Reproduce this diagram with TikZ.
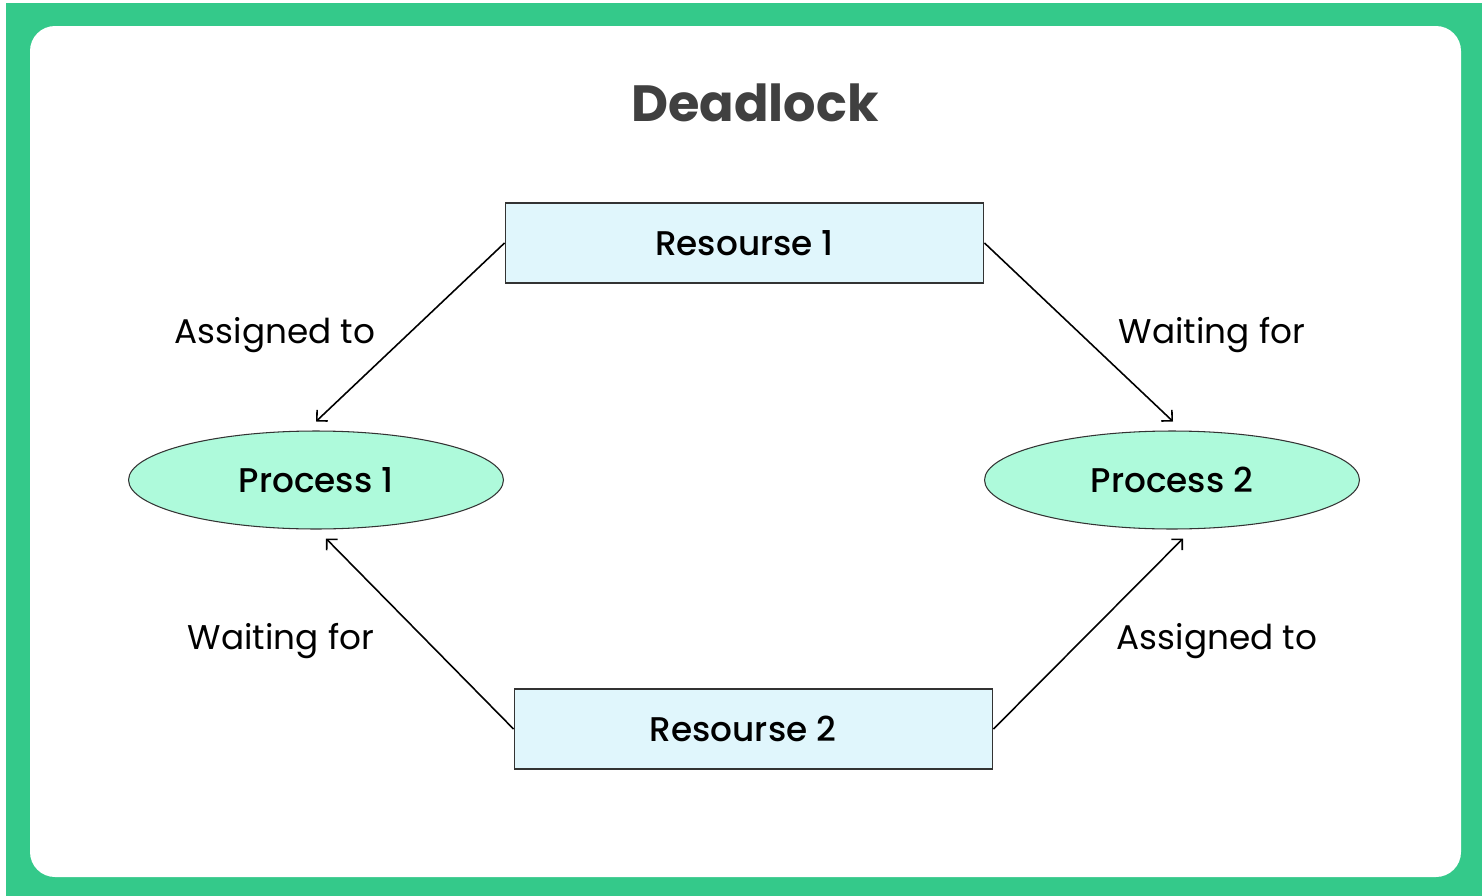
\documentclass[tikz,border=0pt]{standalone}
\usepackage{fontspec}
\setmainfont{Poppins}
\newfontfamily\medfont{Poppins Medium}
\usetikzlibrary{arrows.meta,shapes.geometric}
\definecolor{frame}{HTML}{34C98A}
\definecolor{boxfill}{HTML}{E0F6FC}
\definecolor{procfill}{HTML}{AEFADB}
\definecolor{titlegray}{HTML}{404040}

\begin{document}
\begin{tikzpicture}[
        x=0.02cm,y=-0.02cm,
        res/.style={draw=black!80,fill=boxfill,line width=0.6pt,minimum width=9.58cm,minimum height=1.6cm,font=\medfont\fontsize{19.5}{22}\selectfont},
        proc/.style={draw=black!80,fill=procfill,ellipse,line width=0.6pt,minimum width=7.5cm,minimum height=1.96cm,font=\medfont\fontsize{19.5}{22}\selectfont},
        lbl/.style={font=\fontsize{19.5}{22}\selectfont},
        arr/.style={line width=0.9pt,-{Straight Barb[length=4.4pt,width=8.8pt]}}
    ]
    \useasboundingbox (0,0) rectangle (1482,896);
    \fill[white] (0,0) rectangle (1482,896);
    \fill[frame] (6,3) rectangle (1482,896);
    \fill[white,rounded corners=0.5cm] (30,26) rectangle (1461,877);
    \node[font=\fontsize{29}{34}\selectfont\bfseries,text=titlegray] (title) at (755,103) {Deadlock};
    \node[res] (r1) at (744.5,243) {Resourse 1};
    \node[res,label={[res,draw=none,fill=none,xshift=-0.21cm]center:Resourse 2}] (r2) at (753.5,729) {};
    \node[proc] (p1) at (316,480) {Process 1};
    \node[proc] (p2) at (1172,480) {Process 2};
    \draw[arr] (r1.west) -- ([yshift=0.18cm]p1.north);
    \draw[arr] (r1.east) -- ([yshift=0.18cm,xshift=0.02cm]p2.north);
    \draw[arr] (r2.west) -- ([xshift=0.2cm,yshift=-0.18cm]p1.south);
    \draw[arr] (r2.east) -- ([xshift=0.22cm,yshift=-0.18cm]p2.south);
    \node[lbl] (a1) at (275,335) {Assigned to};
    \node[lbl] (w1) at (1212,335) {Waiting for};
    \node[lbl] (w2) at (281,641) {Waiting for};
    \node[lbl] (a2) at (1217,641) {Assigned to};
\end{tikzpicture}
\end{document}
